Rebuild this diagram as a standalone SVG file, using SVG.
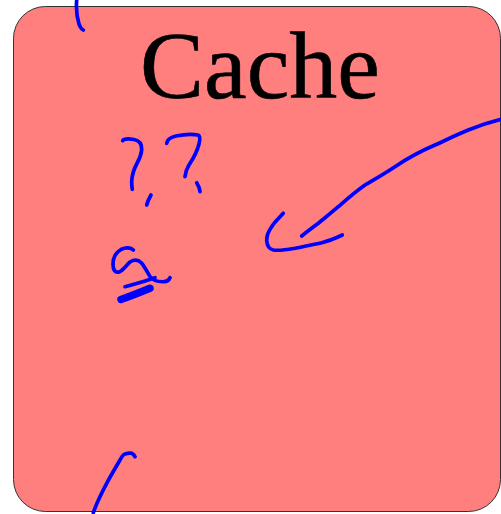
<svg xmlns="http://www.w3.org/2000/svg" width="501" height="514" viewBox="0 0 501 514">
  <style>
    .box { fill: #ff7f7f; stroke: #333333; stroke-width: 1; }
    .title { font-family: "Liberation Serif", "DejaVu Serif", serif; font-size: 96px; fill: #000000; stroke: #000000; stroke-width: 0.6; }
    .ink { fill: none; stroke: #0000ff; stroke-width: 3.7; stroke-linecap: round; stroke-linejoin: round; }
    .ink-heavy { fill: none; stroke: #0000ff; stroke-width: 7.5; stroke-linecap: round; }
  </style>

  <g id="cache">
    <rect class="box" x="13.5" y="6.5" width="487" height="505" rx="32" ry="32"/>
    <text class="title" x="260" y="98" text-anchor="middle">Cache</text>
  </g>

  <g id="annotations">
    <!-- stroke entering from the top edge -->
    <path class="ink" d="M76.7,0 C76,8 76.5,16 79,24 C80,27 81.5,29 83.3,30"/>
    <!-- first question mark -->
    <path class="ink" d="M122.7,140.7 C123.5,139 128,138.5 134,139.5 C140,140.5 142,144 141.7,150 C141,156 139,160 136.7,164 C134,169 132,174 131.7,181.7 C131.6,185 132,187.5 132.3,189.3"/>
    <path class="ink" d="M151,195 C149,198.5 147.5,201.5 146.7,205"/>
    <!-- second question mark -->
    <path class="ink" d="M166.7,143.3 C167,140 170,137.5 176,136 C183,134.5 192,133.8 198,135 C200.5,136 200,140 199,144 C197,152 193,159 189,165 C186.5,169 185.3,173 185,176.7"/>
    <path class="ink" d="M196.7,182.7 C198.5,185.5 199.7,188.5 200,191.7"/>
    <!-- scribbled letter -->
    <path class="ink" d="M133.3,250 C131,247.5 126,247 121,249.5 C116,252.5 113,258 113,264 C113,270 115,273 119,272 C123,270.5 126,265.5 130,262 C134,259.5 138,259.5 141.5,263 C145,267 147,272 150,276.5 C153,280.5 158,282 164,281.7 C167,281.5 169,280 170,277.7"/>
    <path class="ink" d="M125,286.7 C135,284 146,281 155,277.7"/>
    <path class="ink-heavy" d="M121,299.5 C131,296 141,292 150,288.3"/>
    <!-- long arrow pointing down-left -->
    <path class="ink" d="M501,119.3 C490,122 479,125.5 468.3,130 C456,135 446,140 435,145 C421,151 407,158.5 395,166.7 C384,174 375,179 365,185 C355,192 346,200 338.3,206.7 C331,213 324,218.5 318.3,223.3 C312,228 306,232.5 301.7,236"/>
    <path class="ink" d="M283.3,213.3 C279,218 274,222.5 271.5,227 C268,232 266.5,236 266.7,240.5 C267,245.5 269,249 273.3,250 C280,251 288,249.5 295,248.3 C304,246.5 313,244.5 321.7,242.7 C329,241 336,238 342.3,235"/>
    <!-- stroke rising from the bottom edge -->
    <path class="ink" d="M93.3,512.7 C97,502 101.5,493 106.7,483.3 C111,475 116,467 120,460 C121.5,457 123,454.5 125,454 C128,453 130.5,453 131.7,453.3 C133.5,454 134.5,455.5 135,456.7"/>
  </g>
</svg>
